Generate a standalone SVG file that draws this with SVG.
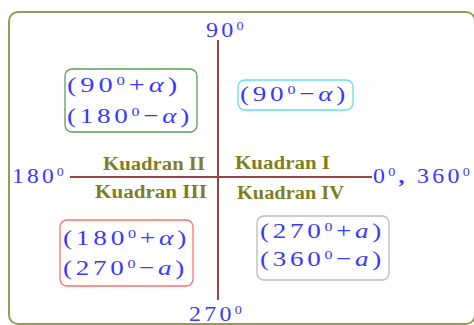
<svg xmlns="http://www.w3.org/2000/svg" width="474" height="325" viewBox="0 0 474 325">
<style>
.m{font-family:"Liberation Serif",serif;font-size:22px;fill:#3838ff;letter-spacing:3px}
.a{font-size:22px}
.i{font-style:italic}
.s{font-size:13px}
.k{font-family:"Liberation Serif",serif;font-size:18px;font-weight:bold;fill:#7f7f1f}
.ax{stroke:#9a4545;stroke-width:2;fill:none}
.b{fill:none;stroke-width:1.3}
</style>
<rect x="9" y="12" width="466" height="312" rx="9" fill="none" stroke="#9a9a55" stroke-width="2"/>
<g id="axes">
<line class="ax" x1="218" y1="40" x2="218" y2="300"/>
<line class="ax" x1="70" y1="177" x2="372" y2="177"/>
</g>
<g id="labels">
<text class="m a" x="206" y="37" textLength="41" lengthAdjust="spacingAndGlyphs">90<tspan class="s" dy="-7">0</tspan></text>
<text class="m a" x="12" y="183" textLength="55" lengthAdjust="spacingAndGlyphs">180<tspan class="s" dy="-7">0</tspan></text>
<text class="m a" x="373" y="183" textLength="100" lengthAdjust="spacingAndGlyphs">0<tspan class="s" dy="-7">0</tspan><tspan dy="7" font-weight="bold">,</tspan> 360<tspan class="s" dy="-7">0</tspan></text>
<text class="m a" x="189" y="321" textLength="56" lengthAdjust="spacingAndGlyphs">270<tspan class="s" dy="-7">0</tspan></text>
</g>
<g id="kuadran">
<text class="k" x="103" y="170" textLength="102" lengthAdjust="spacingAndGlyphs">Kuadran II</text>
<text class="k" x="235" y="169" textLength="95" lengthAdjust="spacingAndGlyphs">Kuadran I</text>
<text class="k" x="95" y="198" textLength="112" lengthAdjust="spacingAndGlyphs">Kuadran III</text>
<text class="k" x="237" y="199" textLength="107" lengthAdjust="spacingAndGlyphs">Kuadran IV</text>
</g>
<g id="q2">
<rect class="b" x="65" y="69" width="132" height="63" rx="7" stroke="#5aa05a"/>
<text class="m" x="67" y="92" textLength="114" lengthAdjust="spacingAndGlyphs">(90<tspan class="s" dy="-7">0</tspan><tspan dy="7">+</tspan><tspan class="i">α</tspan>)</text>
<text class="m" x="67" y="123" textLength="126" lengthAdjust="spacingAndGlyphs">(180<tspan class="s" dy="-7">0</tspan><tspan dy="7">−</tspan><tspan class="i">α</tspan>)</text>
</g>
<g id="q1">
<rect class="b" x="238" y="80" width="115" height="30" rx="7" stroke="#66dff0" stroke-width="1.6"/>
<text class="m" x="240" y="101" textLength="109" lengthAdjust="spacingAndGlyphs">(90<tspan class="s" dy="-7">0</tspan><tspan dy="7">−</tspan><tspan class="i">α</tspan>)</text>
</g>
<g id="q3">
<rect class="b" x="60" y="220" width="133" height="66" rx="7" stroke="#ff7070"/>
<text class="m" x="63" y="245" textLength="127" lengthAdjust="spacingAndGlyphs">(180<tspan class="s" dy="-7">0</tspan><tspan dy="7">+</tspan><tspan class="i">α</tspan>)</text>
<text class="m" x="63" y="275" textLength="125" lengthAdjust="spacingAndGlyphs">(270<tspan class="s" dy="-7">0</tspan><tspan dy="7">−</tspan><tspan class="i">a</tspan>)</text>
</g>
<g id="q4">
<rect class="b" x="257" y="216" width="132" height="64" rx="7" stroke="#bbbbbb"/>
<text class="m" x="260" y="238" textLength="125" lengthAdjust="spacingAndGlyphs">(270<tspan class="s" dy="-7">0</tspan><tspan dy="7">+</tspan><tspan class="i">a</tspan>)</text>
<text class="m" x="260" y="266" textLength="125" lengthAdjust="spacingAndGlyphs">(360<tspan class="s" dy="-7">0</tspan><tspan dy="7">−</tspan><tspan class="i">a</tspan>)</text>
</g>
</svg>
